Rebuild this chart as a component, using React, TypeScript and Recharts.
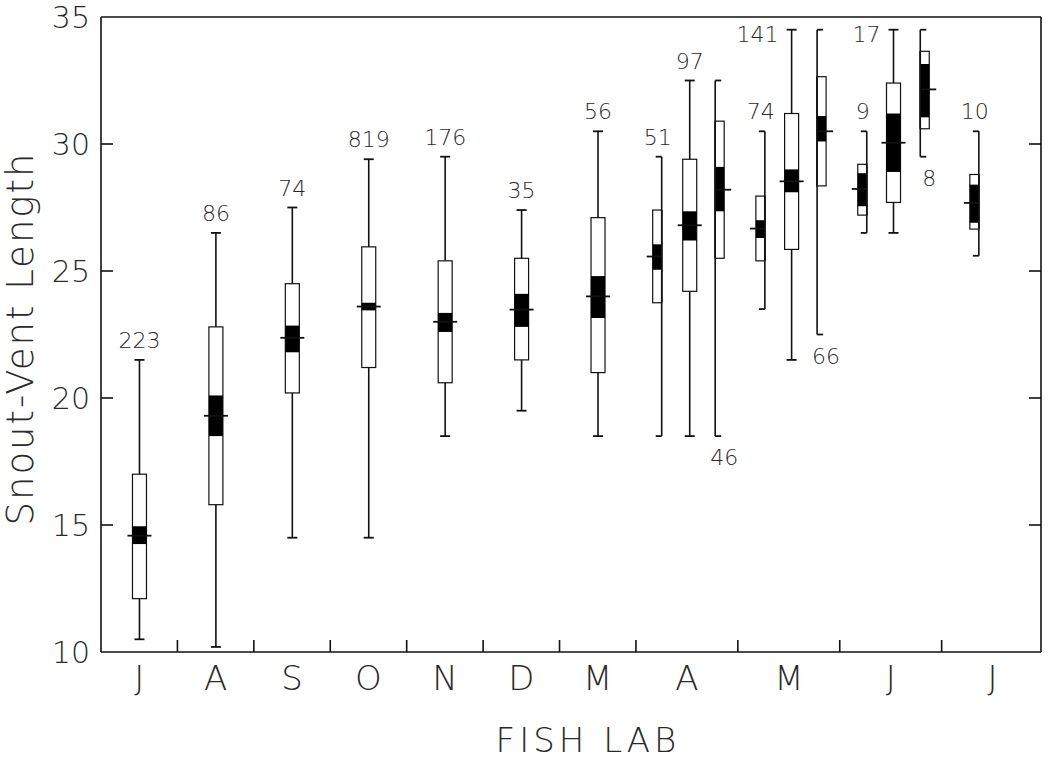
import React from 'react';
import { ComposedChart, Bar, XAxis, YAxis, ReferenceLine } from 'recharts';

// month letters along the bottom, and where they sit on the x scale
const monthNames = ['J', 'A', 'S', 'O', 'N', 'D', 'M', 'A', 'M', 'J', 'J'];
const monthCenters = [1.5, 4.5, 7.5, 10.5, 13.5, 16.5, 19.5, 23, 27, 31, 35];
const monthEdges = [3, 6, 9, 12, 15, 18, 21, 25, 29, 33];
const yTicks = [10, 15, 20, 25, 30, 35];

// one entry per sample
const sampleX = [1.5, 4.5, 7.5, 10.5, 13.5, 16.5, 19.5, 22, 23.1, 24.1, 26.05, 27.1, 28.1, 30.05, 31.1, 32.15, 34.45];
const rangeMin = [10.5, 10.2, 14.5, 14.5, 18.5, 19.5, 18.5, 18.5, 18.5, 18.5, 23.5, 21.5, 22.5, 26.5, 26.5, 29.5, 25.6];
const rangeMax = [21.5, 26.5, 27.5, 29.4, 29.5, 27.4, 30.5, 29.5, 32.5, 32.5, 30.5, 34.5, 34.5, 30.5, 34.5, 34.5, 30.5];
const sdLow = [12.1, 15.8, 20.2, 21.2, 20.6, 21.5, 21.0, 23.75, 24.2, 25.5, 25.4, 25.85, 28.35, 27.2, 27.7, 30.6, 26.65];
const sdHigh = [17.0, 22.8, 24.5, 25.95, 25.4, 25.5, 27.1, 27.4, 29.4, 30.9, 27.95, 31.2, 32.65, 29.2, 32.4, 33.65, 28.8];
const seLow = [14.25, 18.5, 21.8, 23.45, 22.6, 22.8, 23.15, 25.05, 26.2, 27.35, 26.3, 28.1, 30.1, 27.55, 28.9, 31.05, 26.9];
const seHigh = [14.95, 20.1, 22.85, 23.75, 23.35, 24.1, 24.8, 26.05, 27.35, 29.1, 27.0, 29.0, 31.1, 28.85, 31.2, 33.15, 28.4];
const means = [14.58, 19.3, 22.37, 23.6, 23.0, 23.48, 24.0, 25.57, 26.8, 28.2, 26.67, 28.53, 30.5, 28.23, 30.05, 32.15, 27.68];
const counts = ['223', '86', '74', '819', '176', '35', '56', '51', '97', '46', '74', '141', '66', '9', '17', '8', '10'];
const sides = ['both', 'both', 'both', 'both', 'both', 'both', 'both', 'left', 'both', 'right', 'left', 'both', 'right', 'left', 'both', 'right', 'left'];
const labelSpots = ['top', 'top', 'top', 'top', 'top', 'top', 'top', 'top', 'top', 'bottom', 'top', 'left', 'bottom', 'top', 'left', 'bottom', 'top'];

const rows = sampleX.map((x, i) => ({
  x,
  min: rangeMin[i],
  max: rangeMax[i],
  sdLo: sdLow[i],
  sdHi: sdHigh[i],
  seLo: seLow[i],
  seHi: seHigh[i],
  mean: means[i],
  n: counts[i],
  side: sides[i],
  spot: labelSpots[i],
}));

const FONT = '"DejaVu Sans", "Liberation Sans", sans-serif';
const INK = '#111';
const TXT = '#2a2a2a';
const WEIGHT = 200;

function BoxShape(props: any) {
  const { x, y, width, height, payload } = props;
  if (!payload || !isFinite(x) || !isFinite(y)) return null;
  const top = Math.min(y, y + height);
  const h = Math.abs(height);
  const span = payload.max - payload.min;
  // map a value inside the bar's own range onto pixels
  const yOf = (v: number) => top + ((payload.max - v) / span) * h;
  const cx = x + width / 2;
  const side = payload.side;
  const [bl, br] = side === 'left' ? [-9, 0] : side === 'right' ? [0, 9] : [-7, 7];
  const [cl, cr] = side === 'left' ? [-6, 0] : side === 'right' ? [0, 6] : [-5, 5];
  const [ml, mr] = side === 'left' ? [-15, 0] : side === 'right' ? [0, 16] : [-12, 12];
  const yMax = yOf(payload.max);
  const yMin = yOf(payload.min);

  const txt = { fontSize: 22, fontFamily: FONT, fontWeight: WEIGHT, fill: TXT };
  let label = null;
  if (payload.spot === 'top') {
    const lx = side === 'left' ? cx - 4 : cx;
    label = (
      <text x={lx} y={yMax - 12} textAnchor="middle" {...txt}>
        {payload.n}
      </text>
    );
  } else if (payload.spot === 'bottom') {
    label = (
      <text x={cx + 9} y={yMin + 29} textAnchor="middle" {...txt}>
        {payload.n}
      </text>
    );
  } else {
    label = (
      <text x={cx - 13} y={yMax + 12} textAnchor="end" {...txt}>
        {payload.n}
      </text>
    );
  }

  return (
    <g>
      <line x1={cx} x2={cx} y1={yMax} y2={yMin} stroke={INK} strokeWidth={1.6} />
      <line x1={cx + cl} x2={cx + cr} y1={yMax} y2={yMax} stroke={INK} strokeWidth={1.8} />
      <line x1={cx + cl} x2={cx + cr} y1={yMin} y2={yMin} stroke={INK} strokeWidth={1.8} />
      <rect
        x={cx + bl}
        y={yOf(payload.sdHi)}
        width={br - bl}
        height={yOf(payload.sdLo) - yOf(payload.sdHi)}
        fill="#fff"
        stroke={INK}
        strokeWidth={1.2}
      />
      <rect
        x={cx + bl}
        y={yOf(payload.seHi)}
        width={br - bl}
        height={yOf(payload.seLo) - yOf(payload.seHi)}
        fill="#000"
      />
      {side !== 'both' && (
        <line x1={cx} x2={cx} y1={yOf(payload.sdHi)} y2={yOf(payload.sdLo)} stroke={INK} strokeWidth={1.6} />
      )}
      <line x1={cx + ml} x2={cx + mr} y1={yOf(payload.mean)} y2={yOf(payload.mean)} stroke={INK} strokeWidth={1.8} />
      {label}
    </g>
  );
}

function MonthTick(props: any) {
  const { x, y, payload } = props;
  const v = payload.value;
  if (monthEdges.includes(v)) {
    return <line x1={x} x2={x} y1={y} y2={y - 12} stroke={INK} strokeWidth={1.6} />;
  }
  const idx = monthCenters.indexOf(v);
  return (
    <text x={x} y={y + 38} textAnchor="middle" fontSize={34} fontFamily={FONT} fontWeight={WEIGHT} fill={TXT}>
      {monthNames[idx]}
    </text>
  );
}

function LeftTick(props: any) {
  const { x, y, payload } = props;
  const v = payload.value;
  return (
    <g>
      {v !== 10 && v !== 35 && <line x1={x} x2={x + 12} y1={y} y2={y} stroke={INK} strokeWidth={1.6} />}
      <text x={x - 11} y={y + 11} textAnchor="end" fontSize={30} fontFamily={FONT} fontWeight={WEIGHT} fill={TXT}>
        {v}
      </text>
    </g>
  );
}

function RightTick(props: any) {
  const { x, y } = props;
  return <line x1={x} x2={x - 12} y1={y} y2={y} stroke={INK} strokeWidth={1.6} />;
}

function YTitle(props: any) {
  const vb = props.viewBox || { y: 17, height: 635 };
  const cy = vb.y + vb.height / 2 + 4;
  return (
    <text
      x={33}
      y={cy}
      transform={`rotate(-90, 33, ${cy})`}
      textAnchor="middle"
      fontSize={37}
      letterSpacing={2}
      fontFamily={FONT}
      fontWeight={WEIGHT}
      fill={TXT}
    >
      Snout-Vent Length
    </text>
  );
}

function XTitle() {
  return (
    <text x={588} y={752} textAnchor="middle" fontSize={34} letterSpacing={4} fontFamily={FONT} fontWeight={WEIGHT} fill={TXT}>
      FISH LAB
    </text>
  );
}

export default function App() {
  const xTicks = [...monthEdges, ...monthCenters].sort((a, b) => a - b);
  return (
    <div style={{ position: 'absolute', left: 0, top: 0, width: 1051, height: 760, background: '#fff' }}>
      <ComposedChart width={1051} height={760} data={rows} margin={{ top: 17, right: 0, bottom: 0, left: 0 }}>
        <XAxis
          dataKey="x"
          type="number"
          domain={[0, 36.9]}
          ticks={xTicks}
          interval={0}
          tickSize={0}
          tickMargin={0}
          tickLine={false}
          tick={<MonthTick />}
          height={108}
          axisLine={{ stroke: INK, strokeWidth: 1.6 }}
          allowDataOverflow
          label={<XTitle />}
        />
        <YAxis
          yAxisId="left"
          type="number"
          domain={[10, 35]}
          ticks={yTicks}
          interval={0}
          tickSize={0}
          tickMargin={0}
          tickLine={false}
          tick={<LeftTick />}
          width={101}
          axisLine={{ stroke: INK, strokeWidth: 1.6 }}
          allowDataOverflow
          label={<YTitle />}
        />
        <YAxis
          yAxisId="right"
          orientation="right"
          type="number"
          domain={[10, 35]}
          ticks={[15, 20, 25, 30]}
          interval={0}
          tickSize={0}
          tickMargin={0}
          tickLine={false}
          tick={<RightTick />}
          width={10}
          axisLine={{ stroke: INK, strokeWidth: 1.6 }}
          allowDataOverflow
        />
        <ReferenceLine yAxisId="left" y={35} stroke={INK} strokeWidth={1.6} />
        <Bar
          yAxisId="left"
          dataKey={(d: any) => [d.min, d.max]}
          barSize={14}
          shape={<BoxShape />}
          isAnimationActive={false}
        />
      </ComposedChart>
    </div>
  );
}
